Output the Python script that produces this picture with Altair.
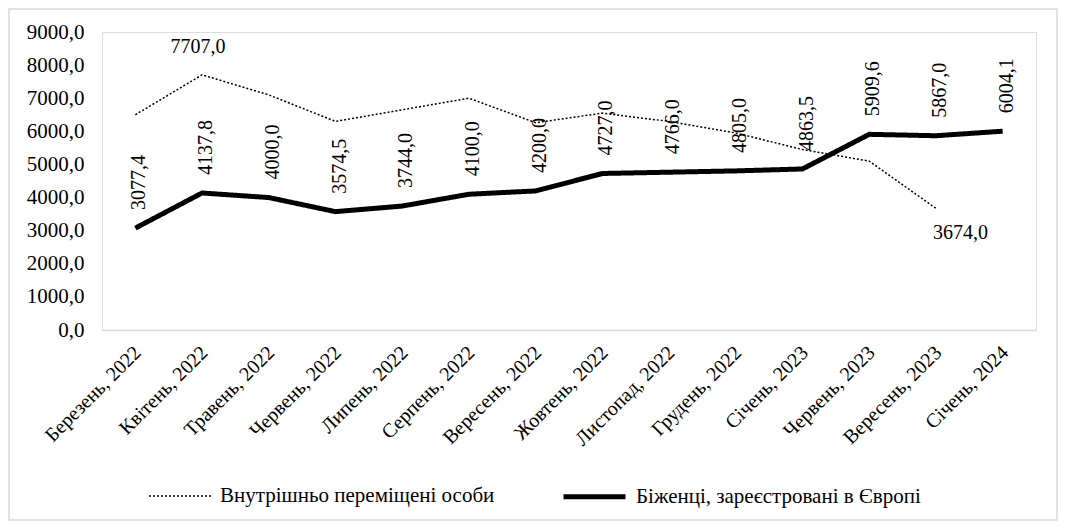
import altair as alt
import pandas as pd

categories = ["Березень, 2022", "Квітень, 2022", "Травень, 2022", "Червень, 2022",
              "Липень, 2022", "Серпень, 2022", "Вересень, 2022", "Жовтень, 2022",
              "Листопад, 2022", "Грудень, 2022", "Січень, 2023", "Червень, 2023",
              "Вересень, 2023", "Січень, 2024"]
idp = [6500, 7707.0, 7100, 6300, 6650, 7000, 6260, 6550, 6300, 5950, 5450, 5100, 3674.0, None]
refugees = [3077.4, 4137.8, 4000.0, 3574.5, 3744.0, 4100.0, 4200.0, 4727.0, 4766.0,
            4805.0, 4863.5, 5909.6, 5867.0, 6004.1]
idp_labels_at = {"Квітень, 2022": "top", "Вересень, 2023": "bottom"}

S1 = "Внутрішньо переміщені особи"
S2 = "Біженці, зареєстровані в Європі"

def fmt(v):
    return f"{v:.1f}".replace(".", ",")

rows = []
for i, c in enumerate(categories):
    if idp[i] is not None:
        rows.append({"cat": c, "series": S1, "value": idp[i], "label": fmt(idp[i]),
                     "pos": idp_labels_at.get(c, "")})
    rows.append({"cat": c, "series": S2, "value": refugees[i], "label": fmt(refugees[i]), "pos": "vert"})
df = pd.DataFrame(rows)

FONT = "Liberation Serif"
W, H = 934, 298

x = alt.X("cat:N", sort=categories, title=None,
          axis=alt.Axis(labelAngle=-45, labelFont=FONT, labelFontSize=20, labelColor="#000",
                        ticks=False, domainColor="#d9d9d9", domainWidth=1.5, labelPadding=12,
                        labelOffset=-5))
y = alt.Y("value:Q", title=None, scale=alt.Scale(domain=[0, 9000], nice=False),
          axis=alt.Axis(values=list(range(0, 9001, 1000)), grid=False, ticks=False, domain=False,
                        labelFont=FONT, labelFontSize=21, labelColor="#000", labelPadding=18,
                        labelExpr="replace(format(datum.value, '.1f'), '.', ',')"))

lines = alt.Chart(df).mark_line(color="black").encode(
    x=x, y=y,
    strokeDash=alt.StrokeDash("series:N", scale=alt.Scale(domain=[S1, S2], range=[[2, 2], [1, 0]]),
                              legend=alt.Legend(title=None, orient="none", direction="horizontal",
                                                legendX=46, legendY=431, symbolType="stroke",
                                                symbolSize=3844, labelFont=FONT, labelFontSize=21,
                                                labelColor="#000", columnPadding=58, labelOffset=8,
                                                labelLimit=500, symbolStrokeColor="black")),
    strokeWidth=alt.StrokeWidth("series:N", scale=alt.Scale(domain=[S1, S2], range=[1.5, 5]),
                                legend=None),
    detail="series:N",
)

vert = alt.Chart(df).transform_filter(alt.datum.pos == "vert").mark_text(
    angle=270, align="left", baseline="middle", dx=18, dy=4, font=FONT, fontSize=20, color="black"
).encode(x=x, y=y, text="label:N")

top = alt.Chart(df).transform_filter(alt.datum.pos == "top").mark_text(
    align="center", baseline="middle", dy=-28, dx=-4, font=FONT, fontSize=20, color="black"
).encode(x=x, y=y, text="label:N")

bottom = alt.Chart(df).transform_filter(alt.datum.pos == "bottom").mark_text(
    align="left", baseline="middle", dy=25, dx=-3, font=FONT, fontSize=20, color="black"
).encode(x=x, y=y, text="label:N")

frame = alt.Chart(alt.Data(values=[{"a": 1}])).mark_rect(
    fill=None, stroke="#d9d9d9", strokeWidth=1.5, clip=False
).encode(x=alt.value(-93), x2=alt.value(W + 21), y=alt.value(-23), y2=alt.value(H + 190))

chart = alt.layer(frame, lines, vert, top, bottom).properties(
    width=W, height=H,
    padding={"left": 94, "top": 24, "right": 22, "bottom": 192},
    autosize=alt.AutoSizeParams(type="none"),
).configure_view(stroke=None).configure(background="white")

chart.save("out.html", embed_options={"renderer": "svg", "actions": False})
